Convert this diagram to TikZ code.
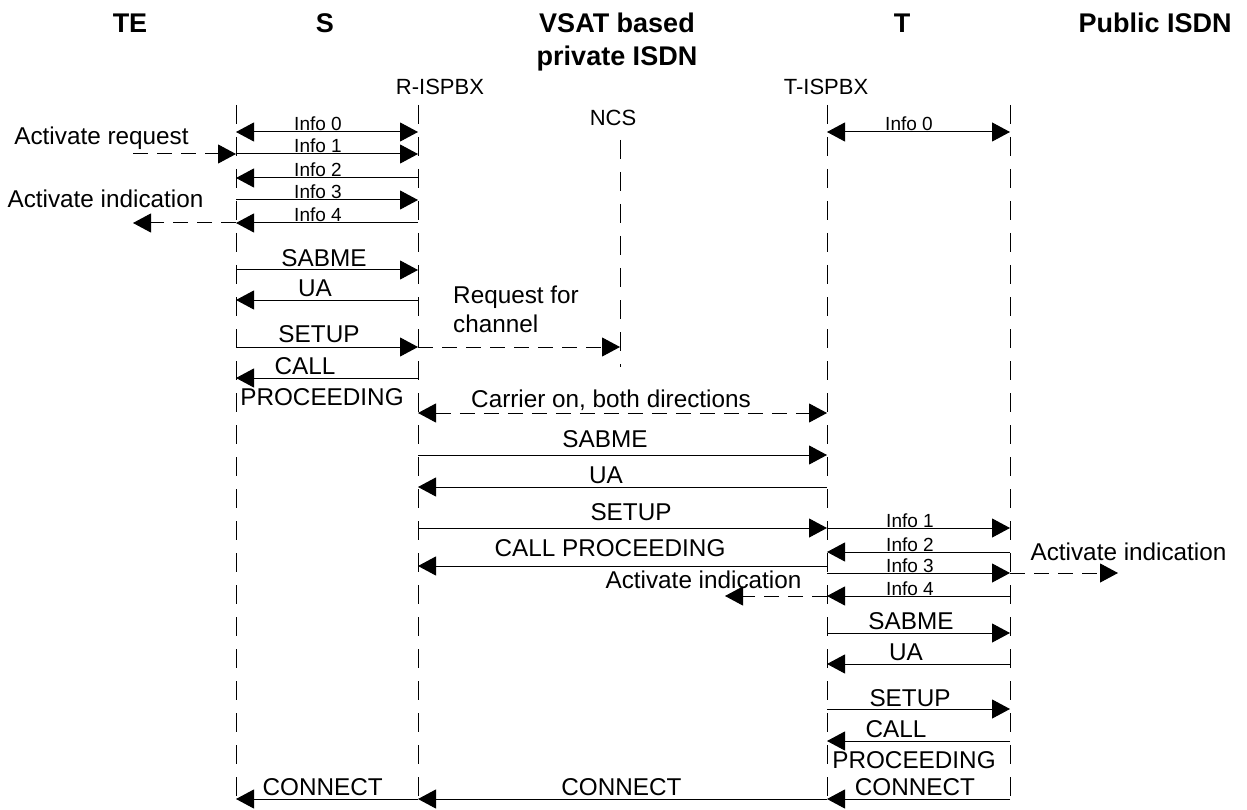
\documentclass[tikz,border=0pt]{standalone}
\usepackage{fontspec}
\setmainfont{Liberation Sans}
\usetikzlibrary{arrows.meta,calc}
\tikzset{
  life/.style={line width=1pt, dash pattern=on 19pt off 13pt},
  msg/.style={line width=1pt, -{Triangle[length=18pt,width=19pt]}},
  dblmsg/.style={line width=1pt, {Triangle[length=18pt,width=19pt]}-{Triangle[length=18pt,width=19pt]}},
  dmsg/.style={msg, dash pattern=on 15pt off 9pt},
  ddblmsg/.style={dblmsg, dash pattern=on 15pt off 9pt},
  ttl/.style={font=\fontsize{27}{30}\selectfont\bfseries, anchor=base, inner sep=0pt},
  ent/.style={font=\fontsize{22}{26}\selectfont, anchor=base, inner sep=0pt},
  lbl/.style={font=\fontsize{24.3}{28}\selectfont, anchor=base, inner sep=0pt},
  inf/.style={font=\fontsize{19}{22}\selectfont, anchor=base, inner sep=0pt},
}
\newcommand\msgline[4][msg]{\draw[#1] ($(#2)+(0,#4)$) -- ($(#3)+(0,#4)$);}
\begin{document}
\begin{tikzpicture}[x=1pt,y=-1pt]
\fill[white] (0,0) rectangle (1247,810);
\useasboundingbox (0,0) rectangle (1247,810);
% lifeline anchors
\coordinate (S) at (236,0);
\coordinate (R) at (418,0);
\coordinate (N) at (620,0);
\coordinate (T) at (827,0);
\coordinate (P) at (1010,0);
% titles
\node[ttl] (tTE) at (130,33) {TE};
\node[ttl] (tS) at (325,33) {S};
\node[ttl] (tV1) at (617,33) {VSAT based};
\node[ttl] (tV2) at (617,66) {private ISDN};
\node[ttl] (tT) at (902,33) {T};
\node[ttl] (tP) at (1155,33) {Public ISDN};
\node[ent] (eR) at (440,95) {R-ISPBX};
\node[ent] (eT) at (826,95) {T-ISPBX};
\node[ent] (eN) at (613,126) {NCS};
% lifelines
\draw[life] ($(S)+(0,105)$) -- ($(S)+(0,808)$);
\draw[life] ($(R)+(0,105)$) -- ($(R)+(0,808)$);
\draw[life] ($(N)+(0,140)$) -- ($(N)+(0,367)$);
\draw[life] ($(T)+(0,105)$) -- ($(T)+(0,808)$);
\draw[life] ($(P)+(0,105)$) -- ($(P)+(0,808)$);
% free ends
\coordinate (arq) at (133,154);
\coordinate (ail) at (133,223);
\coordinate (aim) at (725,596);
\coordinate (air) at (1118,573);
% S - R activation
\msgline[dblmsg]{S}{R}{132}
\node[inf] (i0) at (318,131) {Info 0};
\msgline{S}{R}{154}
\node[inf] (i1) at (318,153) {Info 1};
\msgline{R}{S}{178}
\node[inf] (i2) at (318,177) {Info 2};
\msgline{S}{R}{200}
\node[inf] (i3) at (318,199) {Info 3};
\msgline{R}{S}{223}
\node[inf] (i4) at (318,222) {Info 4};
\draw[dmsg] (arq) -- ($(S)+(0,154)$);
\node[lbl] (lar) at (101.5,145) {Activate request};
\draw[dmsg] ($(S)+(0,223)$) -- (ail);
\node[lbl] (lai) at (105.5,208) {Activate indication};
% S - R layer 2/3
\msgline{S}{R}{270}
\node[lbl] (l1) at (324,266) {SABME};
\msgline{R}{S}{300}
\node[lbl] (l2) at (315,297) {UA};
\msgline{S}{R}{347}
\node[lbl] (l3) at (319,342) {SETUP};
\msgline{R}{S}{378}
\node[lbl] (l4) at (305,374) {CALL};
\node[lbl] (l5) at (322,405) {PROCEEDING};
\msgline[dmsg]{R}{N}{347}
\node[lbl, anchor=base west] (lrq1) at (453,303) {Request for};
\node[lbl, anchor=base west] (lrq2) at (453,332) {channel};
\msgline[ddblmsg]{R}{T}{413}
\node[lbl] (lcar) at (611,407) {Carrier on, both directions};
% R - T
\msgline{R}{T}{455}
\node[lbl] (m1) at (605,447) {SABME};
\msgline{T}{R}{487}
\node[lbl] (m2) at (606,483) {UA};
\msgline{R}{T}{528}
\node[lbl] (m3) at (631,520) {SETUP};
\msgline{T}{R}{566}
\node[lbl] (m4) at (610,556) {CALL PROCEEDING};
\draw[dmsg] ($(T)+(0,596)$) -- (aim);
\node[lbl] (m5) at (703.5,588) {Activate indication};
% T - P
\msgline[dblmsg]{T}{P}{132}
\node[inf] (j0) at (909,131) {Info 0};
\msgline{T}{P}{528}
\node[inf] (j1) at (910,527) {Info 1};
\msgline{P}{T}{552}
\node[inf] (j2) at (910,551) {Info 2};
\msgline{T}{P}{573}
\node[inf] (j3) at (910,572) {Info 3};
\draw[dmsg] ($(P)+(0,573)$) -- (air);
\node[lbl] (rai) at (1128.5,560) {Activate indication};
\msgline{P}{T}{596}
\node[inf] (j4) at (910,595) {Info 4};
\msgline{T}{P}{633}
\node[lbl] (n1) at (911,629) {SABME};
\msgline{P}{T}{664}
\node[lbl] (n2) at (906,660) {UA};
\msgline{T}{P}{709}
\node[lbl] (n3) at (910,706) {SETUP};
\msgline{P}{T}{741}
\node[lbl] (n4) at (896,737) {CALL};
\node[lbl] (n5) at (914,768) {PROCEEDING};
% CONNECT
\msgline{P}{T}{799}
\node[lbl] (c3) at (915,795) {CONNECT};
\msgline{T}{R}{799}
\node[lbl] (c2) at (621.5,795) {CONNECT};
\msgline{R}{S}{799}
\node[lbl] (c1) at (322.7,795) {CONNECT};
\end{tikzpicture}
\end{document}
